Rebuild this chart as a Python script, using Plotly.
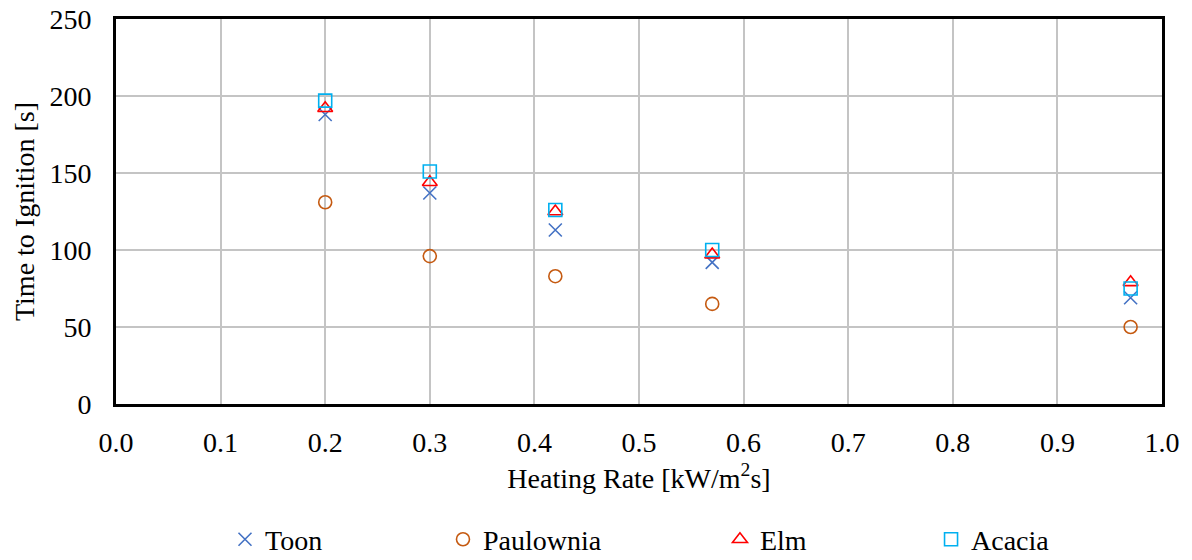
import plotly.graph_objects as go

heating_rate = [0.2, 0.3, 0.42, 0.57, 0.97]
toon = [188, 137, 113, 92, 69]
paulownia = [131, 96, 83, 65, 50]
elm = [192, 144, 125, 97, 79]
acacia = [197, 151, 126, 100, 75]

x_ticks = [0.0, 0.1, 0.2, 0.3, 0.4, 0.5, 0.6, 0.7, 0.8, 0.9, 1.0]
y_ticks = [0, 50, 100, 150, 200, 250]

FONT = "Liberation Serif, Times New Roman, serif"
tick_font = dict(family=FONT, size=28, color="black")
title_font = dict(family=FONT, size=28, color="black")
legend_font = dict(family=FONT, size=28, color="black")

fig = go.Figure()
series = [
    ("Toon", toon, "x-thin", "#4472C4", "legend"),
    ("Paulownia", paulownia, "circle-open", "#C55A11", "legend2"),
    ("Elm", elm, "triangle-up-open", "#FF0000", "legend3"),
    ("Acacia", acacia, "square-open", "#00B0F0", "legend4"),
]
for name, vals, sym, col, lg in series:
    fig.add_trace(go.Scatter(
        x=heating_rate, y=vals, mode="markers", name=name, legend=lg,
        marker=dict(symbol=sym, size=13, color=col, line=dict(color=col, width=1.6)),
    ))

legend_x = [0.1042, 0.3126, 0.5774, 0.7792]
legend_common = dict(orientation="h", xanchor="left", y=-0.352, yanchor="middle",
                     itemwidth=30, font=legend_font, bgcolor="rgba(0,0,0,0)")

fig.update_layout(
    width=1192, height=560,
    margin=dict(l=116, r=30, t=19, b=156, autoexpand=False),
    paper_bgcolor="white", plot_bgcolor="white",
    font=dict(family=FONT, size=28, color="black"),
    showlegend=True,
    legend=dict(x=legend_x[0], **legend_common),
    legend2=dict(x=legend_x[1], **legend_common),
    legend3=dict(x=legend_x[2], **legend_common),
    legend4=dict(x=legend_x[3], **legend_common),
)
fig.update_xaxes(range=[0, 1], tickvals=x_ticks, ticktext=[f"{v:.1f}" for v in x_ticks],
                 tickfont=tick_font, ticklabelstandoff=11,
                 showgrid=True, gridcolor="#C4C4C4", gridwidth=1.5,
                 showline=True, linecolor="black", linewidth=3, mirror=True,
                 ticks="", zeroline=False,
                 title=dict(text="Heating Rate [kW/m<sup>2</sup>s]", font=title_font, standoff=12))
fig.update_yaxes(range=[0, 250], tickvals=y_ticks, tickfont=tick_font, ticklabelstandoff=16,
                 showgrid=True, gridcolor="#C4C4C4", gridwidth=1.5,
                 showline=True, linecolor="black", linewidth=3, mirror=True,
                 ticks="", zeroline=False,
                 title=dict(text="Time to Ignition [s]", font=title_font, standoff=7))

fig.write_html("out.html")
